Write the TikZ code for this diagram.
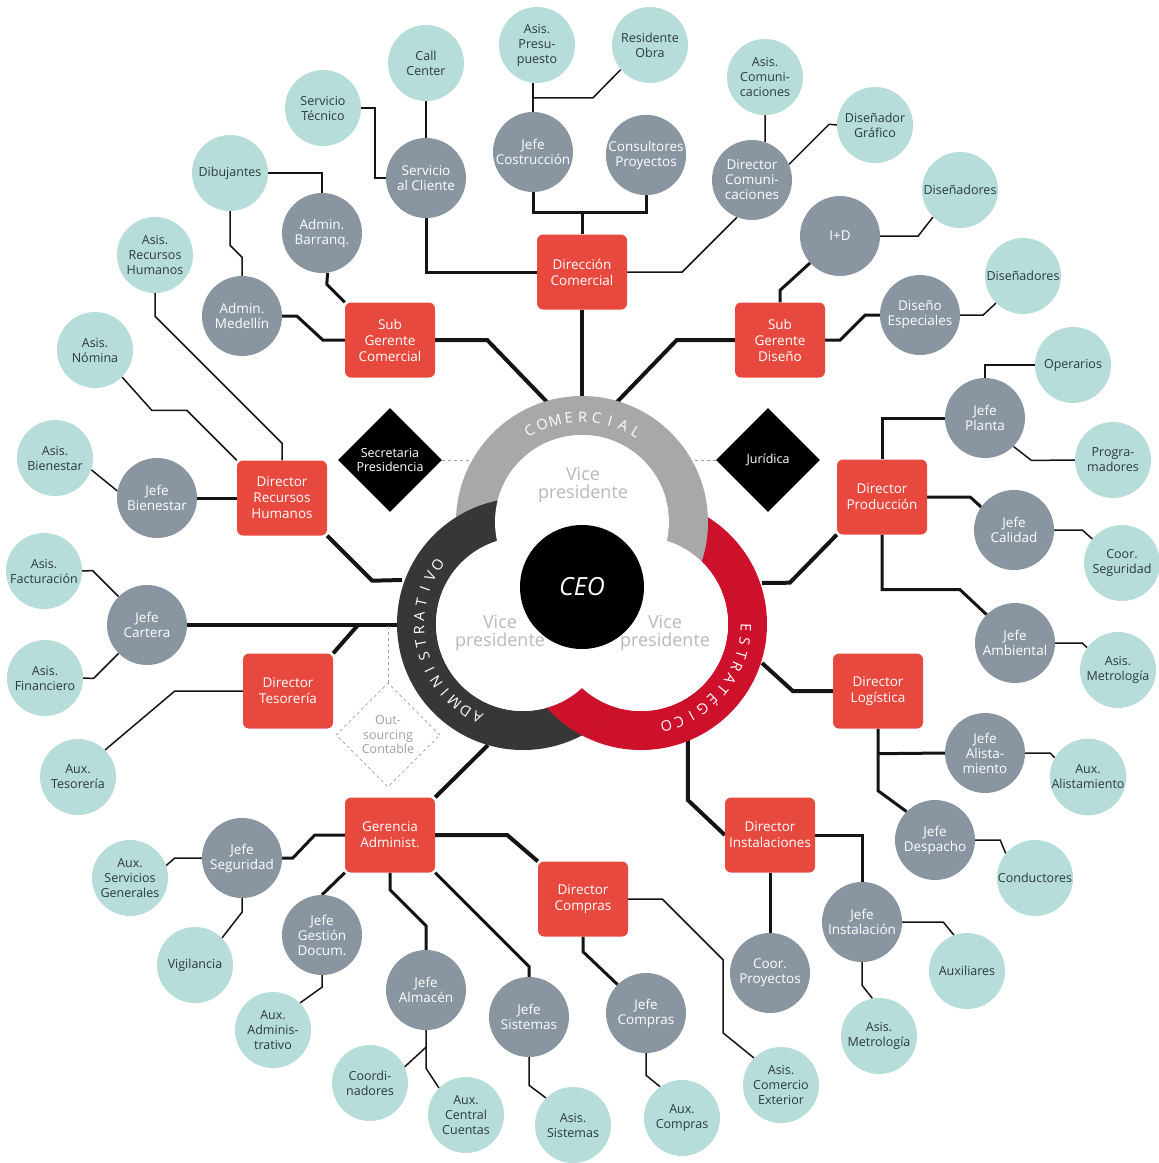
\documentclass[tikz,border=0pt]{standalone}
\usepackage{fontspec}
\setmainfont{Open Sans}
\usetikzlibrary{shapes.geometric,calc}

\definecolor{tealc}{RGB}{182,221,218}
\definecolor{tealtxt}{RGB}{45,58,60}
\definecolor{greyc}{RGB}{137,149,160}
\definecolor{redc}{RGB}{232,73,62}
\definecolor{ringC}{RGB}{168,168,168}
\definecolor{ringA}{RGB}{55,55,55}
\definecolor{ringE}{RGB}{206,17,42}
\definecolor{vptxt}{RGB}{185,185,185}
\definecolor{dashc}{RGB}{160,160,160}
\definecolor{linec}{RGB}{20,20,20}

\pgfdeclarelayer{bg}
\pgfsetlayers{bg,main}

\begin{document}
\begin{tikzpicture}[x=1pt, y=-1pt,
    tealnode/.style={circle, fill=tealc, minimum size=76pt, inner sep=0pt, align=center, text=tealtxt, font=\fontsize{12.5}{15}\selectfont},
    greynode/.style={circle, fill=greyc, minimum size=80pt, inner sep=0pt, align=center, text=white, font=\fontsize{13.5}{15}\selectfont},
    redbox/.style={rectangle, rounded corners=6pt, fill=redc, minimum width=90pt, minimum height=75pt, inner sep=0pt, align=center, text=white, font=\fontsize{13.5}{16}\selectfont},
    blackdia/.style={diamond, aspect=1, fill=black, minimum size=104pt, inner sep=0pt, align=center, text=white, font=\fontsize{12.5}{14.5}\selectfont},
    dashdia/.style={diamond, aspect=1, fill=white, draw=dashc, dashed, line width=0.8pt, minimum size=104pt, inner sep=0pt, align=center, text=dashc, font=\fontsize{12.5}{14.5}\selectfont},
    ringtxt/.style={text=white, inner sep=0pt, font=\fontsize{14.5}{14.5}\selectfont},
    vptext/.style={align=center, text=vptxt, font=\fontsize{18}{18}\selectfont},
    lk0/.style={line width=4pt, linec},
    lk1/.style={line width=3pt, linec},
    lk2/.style={line width=1.5pt, linec},
    dashline/.style={dashed, line width=0.8pt, dashc}]

    \useasboundingbox (0,0) rectangle (1159,1163);

    % Rings round the CEO
    \coordinate (T) at (582,522);
    \coordinate (L) at (523,624);
    \coordinate (R) at (641,624);
    \fill[ringE, even odd rule] (R) circle[radius=126] (R) circle[radius=87];
    \fill[ringC, even odd rule] (T) circle[radius=126] (T) circle[radius=87];
    \fill[ringA, even odd rule] (L) circle[radius=126] (L) circle[radius=87];
    \begin{scope}
        \clip (L) circle[radius=126];
        \fill[ringE, even odd rule] (R) circle[radius=126] (R) circle[radius=87];
    \end{scope}
    \fill[white] (T) circle[radius=87] (L) circle[radius=87] (R) circle[radius=87];

    % Ring labels
    \foreach \ch [count=\i] in {C,O,M,E,R,C,I,A,L}{
        \pgfmathsetmacro\a{120-(\i-1)*7.6}
        \node[ringtxt, rotate=\a-90] (lc\i) at ($(T)+(-\a:105)$) {\ch};
    }
    \foreach \ch [count=\i] in {A,D,M,I,N,I,S,T,R,A,T,I,V,O}{
        \pgfmathsetmacro\a{244-(\i-1)*7.6}
        \node[ringtxt, rotate=\a-90] (la\i) at ($(L)+(-\a:104)$) {\ch};
    }
    \foreach \ch [count=\i] in {E,S,T,R,A,T,É,G,I,C,O}{
        \pgfmathsetmacro\a{-2-(\i-1)*7.4}
        \node[ringtxt, rotate=\a-90] (le\i) at ($(R)+(-\a:105)$) {\ch};
    }

    \node[vptext] (vpc) at (583,485) {Vice\\presidente};
    \node[vptext] (vpa) at (500,633) {Vice\\presidente};
    \node[vptext] (vpe) at (665,633) {Vice\\presidente};
    \node[circle, fill=black, minimum size=124pt, text=white, font=\fontsize{25}{25}\itshape] (ceo) at (582,587) {CEO};

    % Diamonds
    \node[blackdia] (secre) at (390,460) {Secretaria\\Presidencia};
    \node[blackdia] (jurid) at (768,460) {Jurídica};
    \node[dashdia] (outs) at (388,735) {Out-\\sourcing\\Contable};

    % Red boxes
    \node[redbox] (dcom) at (582,272) {Dirección\\Comercial};
    \node[redbox] (sgcom) at (390,340) {Sub\\Gerente\\Comercial};
    \node[redbox] (sgdis) at (780,340) {Sub\\Gerente\\Diseño};
    \node[redbox] (drh) at (282,498) {Director\\Recursos\\Humanos};
    \node[redbox] (dprod) at (882,497) {Director\\Producción};
    \node[redbox] (dtes) at (288,691) {Director\\Tesorería};
    \node[redbox] (dlog) at (878,691) {Director\\Logística};
    \node[redbox] (gadm) at (390,835) {Gerencia\\Administ.};
    \node[redbox] (dinst) at (770,835) {Director\\Instalaciones};
    \node[redbox] (dcomp) at (583,899) {Director\\Compras};

    % Grey circles
    \node[greynode] (servcli) at (426,178) {Servicio\\al Cliente};
    \node[greynode] (jcost) at (533,152) {Jefe\\Costrucción};
    \node[greynode] (consul) at (646,155) {Consultores\\Proyectos};
    \node[greynode] (dircom) at (752,180) {Director\\Comuni-\\caciones};
    \node[greynode] (barranq) at (322,233) {Admin.\\Barranq.};
    \node[greynode] (medell) at (242,316) {Admin.\\Medellín};
    \node[greynode] (imasd) at (840,236) {I+D};
    \node[greynode] (disesp) at (920,315) {Diseño\\Especiales};
    \node[greynode] (jplanta) at (985,418) {Jefe\\Planta};
    \node[greynode] (jbien) at (157,498) {Jefe\\Bienestar};
    \node[greynode] (jcalid) at (1014,530) {Jefe\\Calidad};
    \node[greynode] (jcart) at (147,625) {Jefe\\Cartera};
    \node[greynode] (jamb) at (1015,643) {Jefe\\Ambiental};
    \node[greynode] (jalis) at (985,753) {Jefe\\Alista-\\miento};
    \node[greynode] (jseg) at (242,858) {Jefe\\Seguridad};
    \node[greynode] (jdesp) at (935,840) {Jefe\\Despacho};
    \node[greynode] (jgest) at (322,935) {Jefe\\Gestión\\Docum.};
    \node[greynode] (jinst) at (862,922) {Jefe\\Instalación};
    \node[greynode] (coorpro) at (770,973) {Coor.\\Proyectos};
    \node[greynode] (jalm) at (426,990) {Jefe\\Almacén};
    \node[greynode] (jsis) at (529,1017) {Jefe\\Sistemas};
    \node[greynode] (jcomp) at (646,1013) {Jefe\\Compras};

    % Teal circles
    \node[tealnode] (callc) at (426,63) {Call\\Center};
    \node[tealnode] (presup) at (537,45) {Asis.\\Presu-\\puesto};
    \node[tealnode] (resid) at (650,45) {Residente\\Obra};
    \node[tealnode] (asiscom) at (765,77) {Asis.\\Comuni-\\caciones};
    \node[tealnode] (servtec) at (323,108) {Servicio\\Técnico};
    \node[tealnode] (disgraf) at (875,125) {Diseñador\\Gráfico};
    \node[tealnode] (dibuj) at (230,173) {Dibujantes};
    \node[tealnode] (disenA) at (960,190) {Diseñadores};
    \node[tealnode] (disenB) at (1023,276) {Diseñadores};
    \node[tealnode] (asisrh) at (155,255) {Asis.\\Recursos\\Humanos};
    \node[tealnode] (nomina) at (95,350) {Asis.\\Nómina};
    \node[tealnode] (operar) at (1073,365) {Operarios};
    \node[tealnode] (bienest) at (55,458) {Asis.\\Bienestar};
    \node[tealnode] (progra) at (1113,460) {Progra-\\madores};
    \node[tealnode] (coorseg) at (1122,563) {Coor.\\Seguridad};
    \node[tealnode] (factur) at (44,571) {Asis.\\Facturación};
    \node[tealnode] (financ) at (45,678) {Asis.\\Financiero};
    \node[tealnode] (metroA) at (1118,670) {Asis.\\Metrología};
    \node[tealnode] (auxtes) at (78,777) {Aux.\\Tesorería};
    \node[tealnode] (auxalis) at (1088,777) {Aux.\\Alistamiento};
    \node[tealnode] (auxserv) at (130,878) {Aux.\\Servicios\\Generales};
    \node[tealnode] (conduc) at (1035,878) {Conductores};
    \node[tealnode] (vigil) at (195,965) {Vigilancia};
    \node[tealnode] (auxil) at (967,971) {Auxiliares};
    \node[tealnode] (auxadm) at (273,1030) {Aux.\\Adminis-\\trativo};
    \node[tealnode] (metroB) at (879,1036) {Asis.\\Metrología};
    \node[tealnode] (coordi) at (370,1083) {Coordi-\\nadores};
    \node[tealnode] (auxcc) at (466,1115) {Aux.\\Central\\Cuentas};
    \node[tealnode] (asissis) at (573,1125) {Asis.\\Sistemas};
    \node[tealnode] (auxcomp) at (682,1118) {Aux.\\Compras};
    \node[tealnode] (comext) at (781,1085) {Asis.\\Comercio\\Exterior};

    % Connectors, behind everything
    \begin{pgfonlayer}{bg}
        % ring to red boxes
        \coordinate (kC) at (582,397);
        \coordinate (kSGC) at (547,402);
        \coordinate (kSGD) at (617,402);
        \coordinate (kRH) at (402,580);
        \coordinate (kAD) at (399,625);
        \coordinate (jt) at (358,625);
        \coordinate (jo) at (388,625);
        \coordinate (kGA) at (488,745);
        \coordinate (kPR) at (762,583);
        \coordinate (kLO) at (762,663);
        \coordinate (kIN) at (688,738);
        \coordinate (kSE) at (472,460);
        \coordinate (kJU) at (692,460);
        \draw[lk0] (dcom.south) -- (kC);
        \draw[lk0] (sgcom.east) -- ++(52,0) -- (kSGC);
        \draw[lk0] (sgdis.west) -- ++(-58,0) -- (kSGD);
        \draw[lk0] (drh.south east) -- ++(45,45) -- (kRH);
        \draw[lk0] (jcart.east) -- (kAD);
        \draw[lk0] (dtes.north east) -- (jt);
        \draw[lk0] (gadm.north east) -- (kGA);
        \draw[lk0] (dprod.south west) -- ++(-47,48) -- (kPR);
        \draw[lk0] (dlog.west) -- ++(-40,0) -- (kLO);
        \draw[lk0] (dinst.west) -- ++(-37,-35) -- (kIN);
        \draw[dashline] (secre.east) -- (kSE);
        \draw[dashline] (jurid.west) -- (kJU);
        \draw[dashline] (outs.north) -- (jo);

        % red boxes to grey circles
        \draw[lk1] (dcom.west) -| (servcli.south);
        \coordinate (jd) at (582,212);
        \draw[lk1] (dcom.north) -- (jd);
        \draw[lk1] (jcost.south) |- (jd) -| (consul.south);
        \draw[lk2] (dcom.east) -- ++(55,0) -- (dircom.248);
        \draw[lk1] (sgcom.north west) -- ++(-18,-18) -- (barranq.278);
        \draw[lk1] (sgcom.west) -- ++(-22,0) -- ++(-26,-24) -- (medell.east);
        \draw[lk1] (sgdis.north) -- ++(0,-12) -- (imasd.222);
        \draw[lk1] (sgdis.east) -- ++(15,0) -- ++(25,-25) -- (disesp.west);
        \draw[lk1] (drh.west) -- (jbien.east);
        \draw[lk1] (dprod.north) |- (jplanta.west);
        \draw[lk1] (dprod.east) -- ++(43,0) -- (jcalid.145);
        \draw[lk1] (dprod.south) -- ++(0,55) -- ++(78,0) -- (jamb.north west);
        \draw[lk1] (dlog.south) -- ++(0,62) -- (jdesp.north west);
        \draw[lk1] (dlog.south) ++(0,25) -- (jalis.west);
        \draw[lk1] (gadm.west) -- ++(-30,0) -- ++(-22,23) -- (jseg.east);
        \draw[lk1] (gadm.south west) -- (jgest.north);
        \draw[lk1] (gadm.south) -- ++(0,17) -- ++(36,36) -- (jalm.north);
        \draw[lk1] (gadm.south east) -- ++(94,94) -- (jsis.north);
        \draw[lk0] (gadm.east) -- ++(72,0) -- (dcomp.north west);
        \draw[lk1] (dcomp.south) -- ++(0,15) -- (jcomp.north west);
        \draw[lk1] (dinst.south) -- (coorpro.north);
        \draw[lk1] (dinst.east) -| (jinst.north);

        % grey circles to teal circles
        \draw[lk2] (servcli.north) -- (callc.south);
        \draw[lk2] (servcli.west) -- ++(-11,0) |- (servtec.east);
        \draw[lk2] (jcost.north) -- (jcost.north |- presup.south);
        \draw[lk2] (jcost.north) ++(0,-14) -- ++(60,0) -- (resid.220);
        \draw[lk2] (asiscom.south) -- (dircom.71);
        \draw[lk2] (dircom.23) -- ++(40,-40) -- (disgraf.west);
        \draw[lk2] (dibuj.east) -| (barranq.north);
        \draw[lk2] (dibuj.south) -- ++(0,34) -- ++(12,12) -- (medell.north);
        \draw[lk2] (imasd.east) -- ++(38,0) -- (disenA.south west);
        \draw[lk2] (disesp.east) -- ++(23,0) -- (disenB.south west);
        \draw[lk2] (drh.north) -- ++(0,-17) -- ++(-127,-127) -- (asisrh.south);
        \draw[lk2] (drh.north west) -- ++(-50,-50) -- ++(-35,0) -- (nomina.south east);
        \draw[lk2] (jbien.170) -- (bienest.-18);
        \draw[lk2] (jcart.135) -- ++(-26,-26) -- (factur.east);
        \draw[lk2] (jcart.225) -- ++(-25,25) -- (financ.east);
        \draw[lk2] (dtes.west) -- ++(-68,0) -- (auxtes.north east);
        \draw[lk2] (jseg.west) -- ++(-27,0) -- (auxserv.19);
        \draw[lk2] (jseg.south) -- ++(0,14) -- (vigil.north east);
        \draw[lk2] (jgest.south) -- ++(0,12) -- (auxadm.north east);
        \draw[lk2] (jalm.south) -- ++(0,38) -- (auxcc.north west);
        \draw[lk2] (jalm.south) ++(0,17) -- (coordi.25);
        \draw[lk2] (jsis.south) -- ++(0,28) -- (asissis.north west);
        \draw[lk2] (dcomp.east) -- ++(34,0) -- ++(61,61) -- ++(0,73) -- (comext.north west);
        \draw[lk2] (jcomp.south) -- ++(0,22) -- (auxcomp.125);
        \draw[lk2] (jinst.east) -- ++(41,0) -- (auxil.110);
        \draw[lk2] (jinst.south) -- ++(0,23) -- (metroB.100);
        \draw[lk2] (jalis.east) -- ++(25,0) -- (auxalis.150);
        \draw[lk2] (jdesp.east) -- ++(25,0) -- (conduc.140);
        \draw[lk2] (jplanta.north) |- (operar.west);
        \draw[lk2] (jplanta.south east) -- ++(18,14) -- (progra.west);
        \draw[lk2] (jcalid.east) -- ++(28,0) -- (coorseg.141);
        \draw[lk2] (jamb.east) -- ++(27,0) -- (metroA.144);
    \end{pgfonlayer}

\end{tikzpicture}
\end{document}
